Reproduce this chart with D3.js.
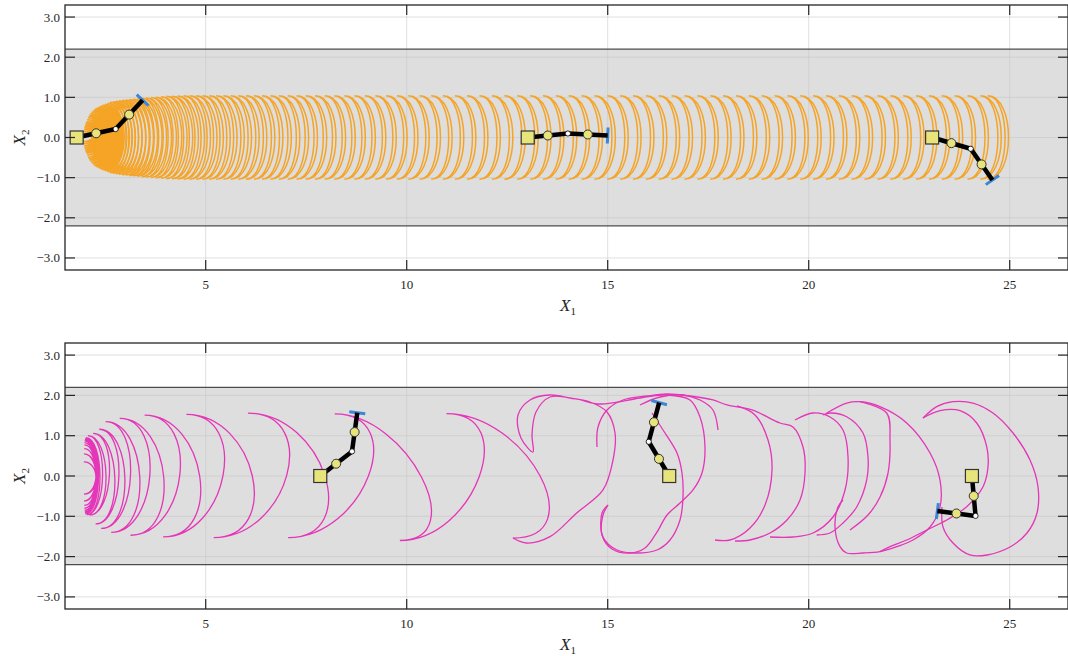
<!DOCTYPE html>
<html>
<head>
<meta charset="utf-8">
<script src="https://cdn.jsdelivr.net/npm/d3@7"></script>
<style>
  body { margin: 0; background: #fff; }
  text { font-family: "Liberation Serif", "DejaVu Serif", serif; fill: #262626; }
</style>
</head>
<body>
<svg id="chart" width="1068" height="656"></svg>
<script>
// ---- data ----
var xTicks = [5, 10, 15, 20, 25];
var yTicks = [3, 2, 1, 0, -1, -2, -3];
var bandLimit = 2.2;

// top panel: left tip of each orange crescent, and half height of the first ones
var orangeX = [1.95,1.96,1.97,1.98,1.99,2.00,2.01,2.02,2.03,2.05,2.07,2.09,2.11,2.13,2.16,2.19,2.22,2.25,2.28,2.32,
  2.36,2.40,2.45,2.50,2.56,2.62,2.69,2.76,2.84,2.92,3.01,3.10,3.20,3.30,3.41,3.52,3.64,3.76,3.89,4.02,
  4.16,4.30,4.45,4.60,4.76,4.92,5.09,5.26,5.44,5.62,5.81,6.00,6.20,6.40,6.61,6.82,7.04,7.26,7.49,7.72,
  7.96,8.20,8.45,8.70,8.96,9.22,9.49,9.76,10.04,10.32,10.61,10.90,11.20,11.50,11.81,12.12,12.43,12.75,13.07,13.39,
  13.71,14.03,14.35,14.67,14.99,15.31,15.63,15.95,16.27,16.59,16.91,17.23,17.55,17.87,18.19,18.51,18.83,19.15,19.47,19.79,
  20.11,20.43,20.75,21.07,21.39,21.71,22.03,22.35,22.67,22.99,23.31,23.63,23.95,24.27,24.45];
var orangeRampH = [0.10,0.15,0.20,0.24,0.28,0.31,0.34,0.36,0.39,0.44,0.49,0.53,0.56,0.59,0.63,0.66,0.69,0.71,0.73,0.75,
  0.77,0.79,0.81,0.83,0.855,0.875,0.89,0.905,0.915,0.925,0.935,0.945,0.955,0.965,0.975,0.985,0.995,1.005,1.015,1.025,
  1.03,1.035];
var orangeFullH = 1.04;
var orangeBulge = 0.52;
var orangeGap = 0.085;

// bottom panel: turning points of the regular part of the magenta path and the bulge of each arc
var magentaTipX = [1.97,1.972,1.974,1.976,1.978,1.98,1.982,1.984,1.986,1.988,1.99,1.992,1.995,2.00,2.005,2.01,2.02,2.04,2.07,
  2.11,2.20,2.26,2.35,2.40,2.51,2.65,2.86,3.13,3.48,3.94,4.52,5.20,6.05,7.05,8.21,9.83,10.99,12.64];
var magentaTipY = [0.35,-0.45,0.55,-0.62,0.68,-0.73,0.77,-0.80,0.83,-0.85,0.87,-0.89,0.90,-0.92,0.93,-0.94,0.95,-0.96,1.00,
  -0.97,1.06,-1.19,1.16,-1.30,1.35,-1.40,1.43,-1.47,1.51,-1.51,1.53,-1.53,1.56,-1.53,1.54,-1.60,1.55,-1.54];
var magentaBulge = [0.30,0.30,0.30,0.30,0.30,0.30,0.30,0.30,0.30,0.30,0.30,0.30,0.30,0.30,0.31,0.32,0.34,0.38,0.43,
  0.45,0.51,0.535,0.615,0.675,0.78,0.855,0.96,1.05,1.14,1.20,1.30,1.39,1.41,1.42,1.35,1.39,1.50];

// bottom panel: irregular part of the magenta path, traced strokes
var magentaStrokes = [
  [[12.644,-1.538],[12.985,-1.663],[13.565,-1.506],[14.229,-0.918],[14.883,-0.347],[15.132,0.397],[15.182,1.067],
   [14.983,1.588],[14.560,1.836],[14.062,1.935],[13.565,2.010],[13.067,1.886],[12.769,1.514],[12.843,0.943],[13.142,0.596],
   [13.117,1.017],[13.216,1.588],[13.565,1.960],[14.211,1.911],[14.808,1.787],[15.803,1.935],[16.475,2.010],[17.047,1.886],
   [17.296,1.464],[17.420,0.720],[17.346,0.074],[17.122,-0.347],[16.799,-0.670],[16.475,-0.968],[16.226,-1.390],
   [15.928,-1.787],[15.555,-1.911],[15.107,-1.811],[14.858,-1.464],[14.883,-0.968],[15.007,-0.720]],
  [[14.734,0.720],[14.759,1.216],[14.983,1.638],[15.381,1.886],[15.977,1.985],[16.475,2.035],[17.047,1.985],[17.619,1.886],
   [17.968,1.762],[18.590,1.638],[19.286,1.315],[19.609,1.216],[19.858,0.720],[19.908,0.074],[19.784,-0.596],[19.460,-1.092],
   [19.037,-1.414],[18.540,-1.588],[18.167,-1.613]],
  [[15.803,1.762],[16.301,1.960],[16.873,2.010],[17.296,1.886],[17.619,1.638],[17.744,1.141]],
  [[16.102,1.563],[16.376,1.141],[16.724,0.571],[16.848,0.074],[16.873,-0.521],[16.799,-1.092],[16.550,-1.588],[16.226,-1.836],
   [15.729,-1.911],[15.231,-1.836],[14.883,-1.514],[14.858,-0.918],[15.007,-0.720]],
  [[18.217,1.737],[18.664,1.514],[18.988,0.893],[19.087,0.149],[18.913,-0.720],[18.540,-1.290],[18.042,-1.588],[17.669,-1.588]],
  [[19.659,1.390],[20.107,1.563],[20.530,1.464],[20.853,1.141],[20.978,0.471],[20.903,-0.347],[20.604,-1.017],[20.107,-1.414],
   [19.609,-1.514],[19.037,-1.514]],
  [[20.199,-1.464],[20.530,-1.414],[20.853,-1.166],[21.194,-0.769],[21.443,-0.099],[21.475,0.471],[21.351,1.067],[20.945,1.471],
   [20.530,1.563],[20.356,1.514]],
  [[20.448,1.563],[20.945,1.811],[21.276,1.844],[21.774,1.720],[22.438,1.315],[23.018,0.571],[23.266,-0.099],[23.266,-0.769],
   [23.018,-1.266],[22.595,-1.588],[22.189,-1.754],[21.774,-1.878],[21.351,-1.911],[20.945,-1.911],[20.779,-1.754],[20.654,-1.266],
   [20.729,-0.769],[20.853,-0.596]],
  [[21.276,1.844],[21.940,1.563],[22.022,0.893],[21.973,0.074],[21.774,-0.521],[21.475,-0.968],[21.027,-1.340]],
  [[22.843,1.439],[23.184,1.720],[23.589,1.844],[24.087,1.811],[24.584,1.563],[25.082,1.067],[25.505,0.397],[25.704,-0.273],
   [25.679,-0.918],[25.430,-1.414],[25.007,-1.762],[24.435,-1.960],[24.012,-1.960],[23.589,-1.663],[23.341,-1.266],[23.316,-0.769]],
  [[22.843,1.439],[23.266,1.620],[23.764,1.620],[24.179,1.315],[24.428,0.727],[24.460,0.231],[24.336,-0.266],[23.930,-0.762],
   [23.433,-1.092],[22.935,-1.340],[22.438,-1.588],[22.022,-1.754],[21.774,-1.878]]
];

// arms: base, elbow, tool point
var topArms = [
  [[1.79, 0], [2.76, 0.21], [3.43, 0.93]],
  [[13.01, 0], [14.01, 0.10], [15.0, 0.05]],
  [[23.07, 0], [24.03, -0.28], [24.57, -1.06]]
];
var bottomArms = [
  [[7.85, 0], [8.64, 0.61], [8.77, 1.57]],
  [[16.53, 0], [16.02, 0.85], [16.28, 1.82]],
  [[24.06, 0], [24.15, -0.99], [23.20, -0.87]]
];

// ---- layout ----
var svg = d3.select("#chart");
var panels = [
  {top: 5, bottom: 270, arms: topArms, kind: "orange"},
  {top: 343, bottom: 609, arms: bottomArms, kind: "magenta"}
];
var left = 65, right = 1068;
var orange = "#f5a425", magenta = "#e535b8";

var x = d3.scaleLinear().domain([1.5, 26.45]).range([left, right]);

panels.forEach(function(p, pi) {
    var y = d3.scaleLinear().domain([-3.3, 3.3]).range([p.bottom, p.top]);
    var g = svg.append("g");
    var clipId = "clip" + pi;
    g.append("clipPath").attr("id", clipId).append("rect")
        .attr("x", left).attr("y", p.top).attr("width", right - left).attr("height", p.bottom - p.top);

    // background band
    g.append("rect").attr("x", left).attr("y", y(bandLimit))
        .attr("width", right - left).attr("height", y(-bandLimit) - y(bandLimit))
        .attr("fill", "#dedede");

    // grid
    g.selectAll(".gx").data(xTicks).enter().append("line")
        .attr("x1", function(d) { return x(d); }).attr("x2", function(d) { return x(d); })
        .attr("y1", p.top).attr("y2", p.bottom)
        .attr("stroke", "#c4c4c4").attr("stroke-opacity", 0.55).attr("stroke-width", 1);
    g.selectAll(".gy").data(yTicks).enter().append("line")
        .attr("x1", left).attr("x2", right)
        .attr("y1", function(d) { return y(d); }).attr("y2", function(d) { return y(d); })
        .attr("stroke", "#c4c4c4").attr("stroke-opacity", 0.55).attr("stroke-width", 1);

    // band borders
    [bandLimit, -bandLimit].forEach(function(v) {
        g.append("line").attr("x1", left).attr("x2", right)
            .attr("y1", y(v)).attr("y2", y(v))
            .attr("stroke", "#4d4d4d").attr("stroke-width", 1.3);
    });

    var plot = g.append("g").attr("clip-path", "url(#" + clipId + ")");

    if (p.kind == "orange") {
        orangeX.forEach(function(tx, i) {
            var h = i < orangeRampH.length ? orangeRampH[i] : orangeFullH;
            var b = orangeBulge * (0.55 + 0.45 * h / orangeFullH);
            var c1 = b / 0.75, c2 = (b - orangeGap) / 0.75;
            var path = d3.path();
            path.moveTo(x(tx), y(h));
            path.bezierCurveTo(x(tx + c1), y(h), x(tx + c1), y(-h), x(tx), y(-h));
            path.bezierCurveTo(x(tx + c2), y(-h), x(tx + c2), y(h), x(tx), y(h));
            path.closePath();
            plot.append("path").attr("d", path.toString())
                .attr("fill", i < 24 ? orange : "none").attr("stroke", orange).attr("stroke-width", 1.5);
        });
    } else {
        // regular arcs between turning points: horizontal tangents at the tips
        var path = d3.path();
        path.moveTo(x(magentaTipX[0]), y(magentaTipY[0]));
        for (var i = 0; i < magentaTipX.length - 1; i++) {
            var c = magentaBulge[i] / 0.75;
            var ax = magentaTipX[i], ay = magentaTipY[i], bx = magentaTipX[i + 1], by = magentaTipY[i + 1];
            path.bezierCurveTo(x(ax + c), y(ay), x(bx + c), y(by), x(bx), y(by));
        }
        plot.append("path").attr("d", path.toString())
            .attr("fill", "none").attr("stroke", magenta).attr("stroke-width", 1.3);

        var traced = d3.line()
            .x(function(d) { return x(d[0]); })
            .y(function(d) { return y(d[1]); })
            .curve(d3.curveCatmullRom.alpha(0.5));
        plot.selectAll(".stroke").data(magentaStrokes).enter().append("path")
            .attr("d", traced)
            .attr("fill", "none").attr("stroke", magenta).attr("stroke-width", 1.3);
    }

    // arms
    p.arms.forEach(function(a) {
        var line = d3.line().x(function(d) { return x(d[0]); }).y(function(d) { return y(d[1]); });
        // tool tick, perpendicular to last link
        var dx = a[2][0] - a[1][0], dy = a[2][1] - a[1][1];
        var len = Math.sqrt(dx * dx + dy * dy);
        var nx = -dy / len * 0.2, ny = dx / len * 0.2;
        plot.append("path").attr("d", line([[a[2][0] + nx, a[2][1] + ny], [a[2][0] - nx, a[2][1] - ny]]))
            .attr("stroke", "#3b86d6").attr("stroke-width", 3).attr("fill", "none");
        plot.append("path").attr("d", line(a))
            .attr("stroke", "#000").attr("stroke-width", 4.5).attr("fill", "none")
            .attr("stroke-linejoin", "round");
        var mids = [[(a[0][0] + a[1][0]) / 2, (a[0][1] + a[1][1]) / 2],
                    [(a[1][0] + a[2][0]) / 2, (a[1][1] + a[2][1]) / 2]];
        plot.selectAll(null).data(mids).enter().append("circle")
            .attr("cx", function(d) { return x(d[0]); }).attr("cy", function(d) { return y(d[1]); })
            .attr("r", 4.5).attr("fill", "#e8e47c").attr("stroke", "#333").attr("stroke-width", 1);
        plot.append("circle").attr("cx", x(a[1][0])).attr("cy", y(a[1][1]))
            .attr("r", 2.6).attr("fill", "#fff").attr("stroke", "#000").attr("stroke-width", 0.8);
        plot.append("rect").attr("x", x(a[0][0]) - 6.5).attr("y", y(a[0][1]) - 6.5)
            .attr("width", 13).attr("height", 13)
            .attr("fill", "#e8e47c").attr("stroke", "#333").attr("stroke-width", 1.2);
    });

    // ticks (inward) on all sides
    var tk = 10;
    xTicks.forEach(function(v) {
        g.append("line").attr("x1", x(v)).attr("x2", x(v)).attr("y1", p.bottom).attr("y2", p.bottom - tk)
            .attr("stroke", "#262626").attr("stroke-width", 1.2);
        g.append("line").attr("x1", x(v)).attr("x2", x(v)).attr("y1", p.top).attr("y2", p.top + tk)
            .attr("stroke", "#262626").attr("stroke-width", 1.2);
        g.append("text").attr("x", x(v)).attr("y", p.bottom + 19).attr("text-anchor", "middle")
            .attr("font-size", 13).text(v);
    });
    yTicks.forEach(function(v) {
        g.append("line").attr("x1", left).attr("x2", left + tk).attr("y1", y(v)).attr("y2", y(v))
            .attr("stroke", "#262626").attr("stroke-width", 1.2);
        g.append("line").attr("x1", right).attr("x2", right - tk).attr("y1", y(v)).attr("y2", y(v))
            .attr("stroke", "#262626").attr("stroke-width", 1.2);
        g.append("text").attr("x", left - 5).attr("y", y(v) + 4.5).attr("text-anchor", "end")
            .attr("font-size", 13).text(d3.format(".1f")(v));
    });

    // frame
    g.append("rect").attr("x", left).attr("y", p.top).attr("width", right - left).attr("height", p.bottom - p.top)
        .attr("fill", "none").attr("stroke", "#262626").attr("stroke-width", 1.3);

    // axis labels
    var xl = g.append("text").attr("x", 560).attr("y", p.bottom + 41).attr("font-size", 17)
        .attr("font-style", "italic");
    xl.append("tspan").text("X");
    xl.append("tspan").attr("font-size", 11).attr("font-style", "normal").attr("dy", 4).text("1");
    var yl = g.append("text").attr("transform", "translate(25," + (y(0) + 8) + ") rotate(-90)")
        .attr("font-size", 17).attr("font-style", "italic");
    yl.append("tspan").text("X");
    yl.append("tspan").attr("font-size", 11).attr("font-style", "normal").attr("dy", 4).text("2");
});
</script>
</body>
</html>
